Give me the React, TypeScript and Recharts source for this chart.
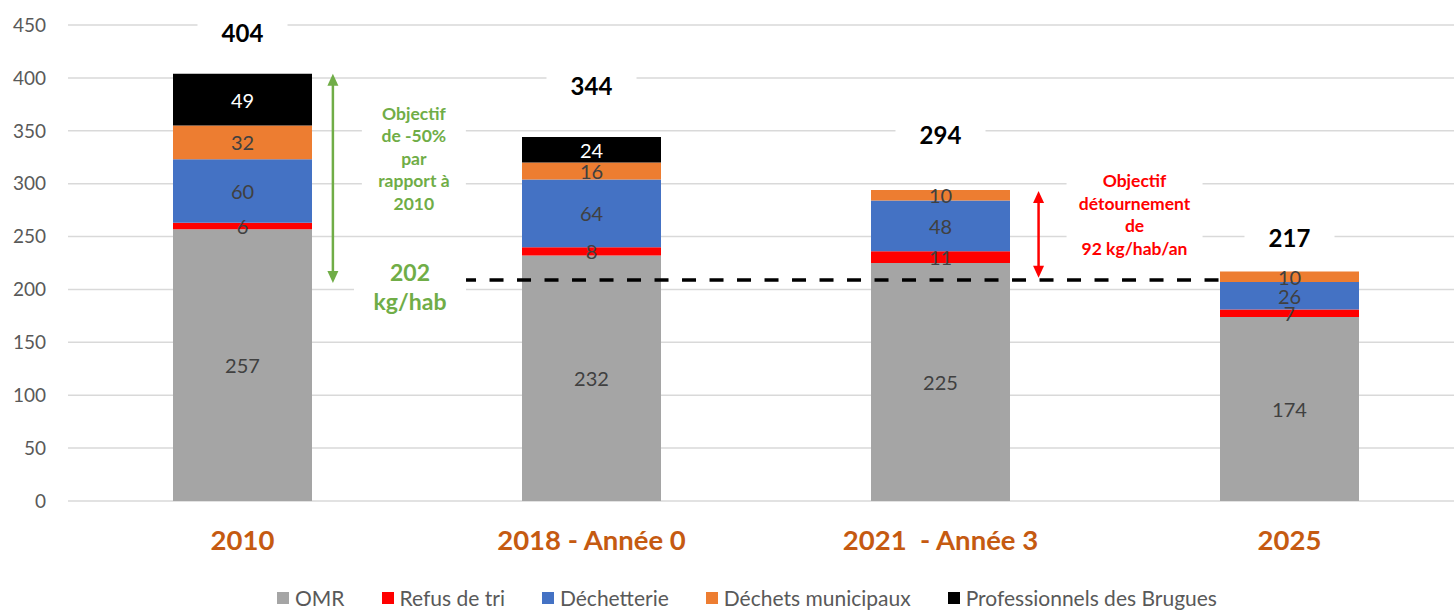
import React from "react";
import {
  BarChart,
  Bar,
  XAxis,
  YAxis,
  CartesianGrid,
  LabelList,
  ReferenceLine,
  ReferenceDot,
  Legend,
} from "recharts";

// kg/hab/an par flux
const CATEGORIES = ["2010", "2018 - Année 0", "2021  - Année 3", "2025"];
const OMR = [257, 232, 225, 174];
const REFUS = [6, 8, 11, 7];
const DECHETTERIE = [60, 64, 48, 26];
const MUNICIPAUX = [32, 16, 10, 10];
const PROS = [49, 24, 0, 0];
const Y_TICKS = [0, 50, 100, 150, 200, 250, 300, 350, 400, 450];

// objectif tracé (la ligne pointillée est posée un peu au-dessus de 202 dans l'original)
const TARGET_LABEL = "202";
const TARGET_LINE = 209;

const FONT = "Lato, 'Open Sans', sans-serif";
const TICK_GREY = "#595959";
const LABEL_GREY = "#404040";
const GREEN = "#70AD47";
const RED = "#FF0000";
const CAT_COLOR = "#C55A11";

const CHART_W = 1470;
const Y_W = 68;
const RIGHT = 6;
// one category band, used to slide annotations sideways from a bar centre
const BAND = (CHART_W - Y_W - RIGHT) / CATEGORIES.length;
// the totals were placed by hand in the original, not at a fixed gap
const TOTAL_LIFT = [41, 52, 56, 34];

const SERIES = [
  { key: "omr", name: "OMR", color: "#A5A5A5", values: OMR, text: LABEL_GREY },
  { key: "refus", name: "Refus de tri", color: "#FF0000", values: REFUS, text: LABEL_GREY },
  { key: "dech", name: "Déchetterie", color: "#4472C4", values: DECHETTERIE, text: LABEL_GREY },
  { key: "muni", name: "Déchets municipaux", color: "#ED7D31", values: MUNICIPAUX, text: LABEL_GREY },
  { key: "pros", name: "Professionnels des Brugues", color: "#000000", values: PROS, text: "#FFFFFF" },
];

const rows = CATEGORIES.map((category, i) => {
  const row: Record<string, string | number> = { category };
  SERIES.forEach((s) => (row[s.key] = s.values[i]));
  return row;
});

const totals = CATEGORIES.map((_, i) => SERIES.reduce((acc, s) => acc + s.values[i], 0));

// segment labels: centred, skipped when the flux is absent
const segmentLabel = (color: string) => (props: any) => {
  const { x, y, width, height, value } = props;
  if (!value) return null;
  return (
    <text
      x={Number(x) + Number(width) / 2}
      y={Number(y) + Number(height) / 2}
      textAnchor="middle"
      dominantBaseline="central"
      fill={color}
      fontSize={20}
      fontFamily={FONT}
    >
      {value}
    </text>
  );
};

const CategoryTick = (props: any) => {
  const { x, y, payload } = props;
  return (
    <text
      x={x}
      y={y}
      dy="0.8em"
      textAnchor="middle"
      fill={CAT_COLOR}
      fontSize={27.5}
      fontWeight={700}
      fontFamily={FONT}
      style={{ whiteSpace: "pre" }}
    >
      {payload.value}
    </text>
  );
};

// total above each stack, on a white box so the gridline breaks around it
const totalShape = (value: number, lift: number) => (props: any) => {
  const { cx, cy } = props;
  const ty = cy - lift;
  return (
    <g>
      <rect x={cx - 45} y={ty - 17} width={90} height={34} fill="#fff" />
      <text x={cx} y={ty} textAnchor="middle" dominantBaseline="central" fontSize={24} fontWeight={700} fontFamily={FONT} fill="#000">
        {value}
      </text>
    </g>
  );
};

const textBlock = (shift: number, lines: string[], color: string, size: number, lineH: number, boxW: number) => (props: any) => {
  const cx = props.cx + shift * BAND;
  const { cy } = props;
  const h = lines.length * lineH;
  const top = cy - h / 2;
  return (
    <g>
      <rect x={cx - boxW / 2} y={top - 4} width={boxW} height={h + 8} fill="#fff" />
      {lines.map((l, i) => (
        <text
          key={i}
          x={cx}
          y={top + lineH * (i + 0.5)}
          textAnchor="middle"
          dominantBaseline="central"
          fill={color}
          fontSize={size}
          fontWeight={700}
          fontFamily={FONT}
        >
          {l}
        </text>
      ))}
    </g>
  );
};

const arrowShape = (shift: number, color: string) => (props: any) => {
  const x = props.x1 + shift * BAND;
  const top = Math.min(props.y1, props.y2);
  const bot = Math.max(props.y1, props.y2);
  const head = 12;
  const hw = 5.5;
  return (
    <g>
      <line x1={x} x2={x} y1={top + head - 2} y2={bot - head + 2} stroke={color} strokeWidth={2.5} />
      <polygon points={`${x},${top} ${x - hw},${top + head} ${x + hw},${top + head}`} fill={color} />
      <polygon points={`${x},${bot} ${x - hw},${bot - head} ${x + hw},${bot - head}`} fill={color} />
    </g>
  );
};

const dashedShape = (shiftStart: number, shiftEnd: number) => (props: any) => {
  const { x1, x2, y1 } = props;
  return (
    <line
      x1={x1 + shiftStart * BAND}
      x2={x2 + shiftEnd * BAND}
      y1={y1}
      y2={y1}
      stroke="#000"
      strokeWidth={3.5}
      strokeDasharray="14 13.5"
    />
  );
};

const LegendContent = () => (
  <div
    style={{
      display: "flex",
      justifyContent: "center",
      alignItems: "center",
      gap: 37,
      height: 40,
      paddingLeft: 30,
      paddingTop: 15,
      boxSizing: "border-box",
      fontFamily: FONT,
      fontSize: 21,
      color: TICK_GREY,
    }}
  >
    {SERIES.map((s) => (
      <span key={s.key} style={{ display: "inline-flex", alignItems: "center", gap: 6 }}>
        <span style={{ width: 12, height: 12, background: s.color, display: "inline-block" }} />
        {s.name}
      </span>
    ))}
  </div>
);

export default function App() {
  return (
    <div style={{ position: "absolute", left: 0, top: 0, width: 1454, height: 610, overflow: "hidden", background: "#fff" }}>
      <BarChart width={CHART_W} height={610} data={rows} margin={{ top: 25, right: RIGHT, bottom: 0, left: 0 }} barSize={139}>
        <CartesianGrid vertical={false} stroke="#D9D9D9" strokeWidth={1.5} />
        <XAxis
          dataKey="category"
          axisLine={false}
          tickLine={false}
          tickSize={0}
          tickMargin={27}
          height={69}
          tick={<CategoryTick />}
          interval={0}
        />
        <YAxis
          domain={[0, 450]}
          ticks={Y_TICKS}
          axisLine={false}
          tickLine={false}
          tickSize={0}
          tickMargin={22}
          width={Y_W}
          tick={{ fontSize: 19, fill: TICK_GREY, fontFamily: FONT }}
        />
        <Legend verticalAlign="bottom" height={40} content={<LegendContent />} />

        {SERIES.map((s) => (
          <Bar key={s.key} dataKey={s.key} name={s.name} stackId="t" fill={s.color} isAnimationActive={false}>
            <LabelList dataKey={s.key} content={segmentLabel(s.text)} />
          </Bar>
        ))}

        {CATEGORIES.map((c, i) => (
          <ReferenceDot key={c} x={c} y={totals[i]} r={0} ifOverflow="visible" shape={totalShape(totals[i], TOTAL_LIFT[i])} />
        ))}

        <ReferenceDot
          x={CATEGORIES[0]}
          y={324}
          r={0}
          ifOverflow="visible"
          shape={textBlock(0.491, ["Objectif", "de -50%", "par", "rapport à", "2010"], GREEN, 17.5, 22.5, 104)}
        />
        <ReferenceDot
          x={CATEGORIES[0]}
          y={203}
          r={0}
          ifOverflow="visible"
          shape={textBlock(0.48, [TARGET_LABEL, "kg/hab"], GREEN, 23, 29, 112)}
        />
        <ReferenceDot
          x={CATEGORIES[2]}
          y={271}
          r={0}
          ifOverflow="visible"
          shape={textBlock(0.556, ["Objectif", "détournement", "de", "92 kg/hab/an"], RED, 17.5, 22.5, 136)}
        />

        <ReferenceLine
          segment={[{ x: CATEGORIES[1], y: TARGET_LINE }, { x: CATEGORIES[3], y: TARGET_LINE }]}
          ifOverflow="visible"
          shape={dashedShape(-0.371, -0.179)}
        />
        <ReferenceLine
          segment={[{ x: CATEGORIES[0], y: 404 }, { x: CATEGORIES[0], y: 206 }]}
          ifOverflow="visible"
          shape={arrowShape(0.259, GREEN)}
        />
        <ReferenceLine
          segment={[{ x: CATEGORIES[2], y: 293 }, { x: CATEGORIES[2], y: 211 }]}
          ifOverflow="visible"
          shape={arrowShape(0.281, RED)}
        />
      </BarChart>
    </div>
  );
}
